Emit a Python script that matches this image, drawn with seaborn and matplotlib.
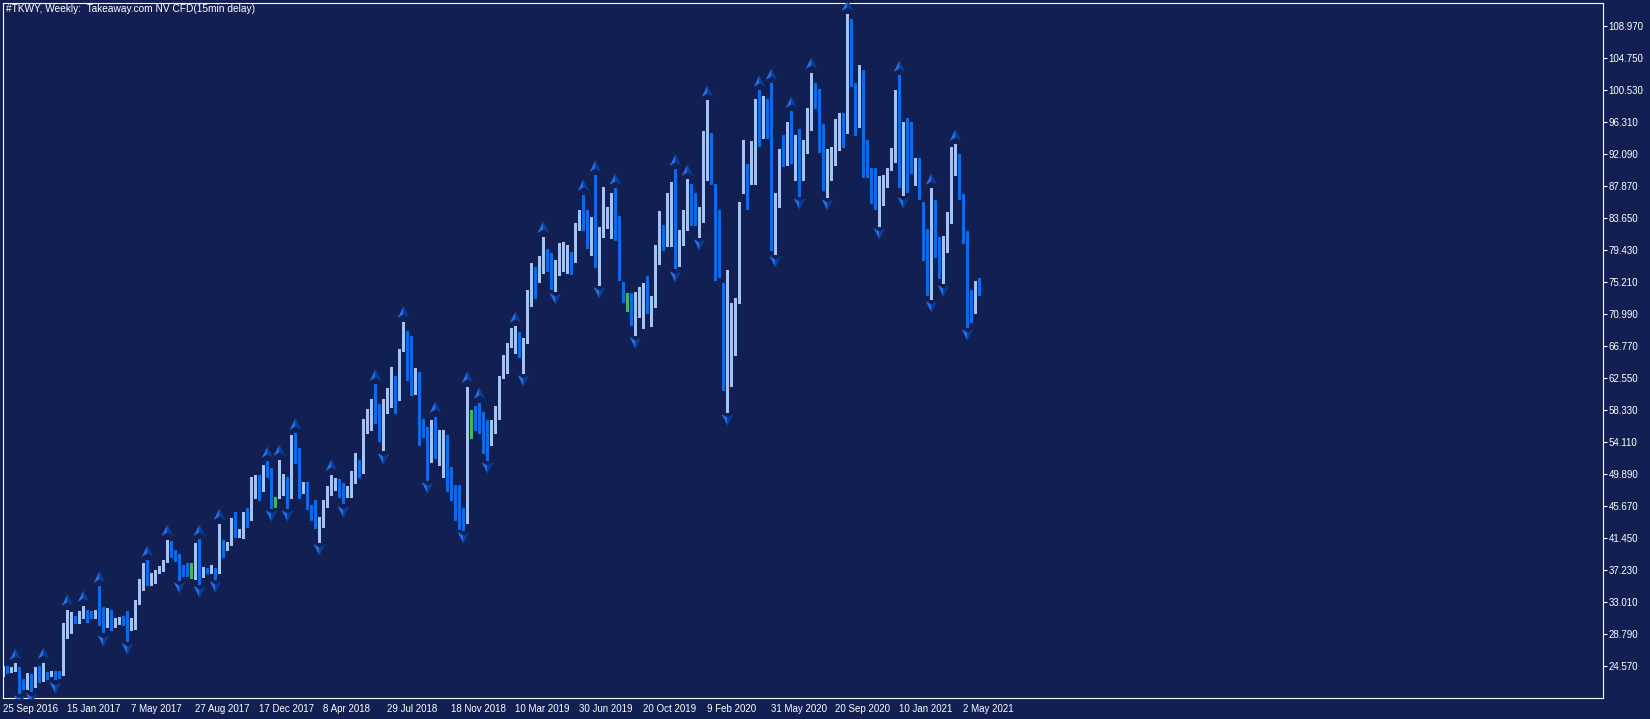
import numpy as np
import pandas as pd
import matplotlib
matplotlib.use("Agg")
import matplotlib.pyplot as plt
from matplotlib.path import Path
import seaborn as sns

# Colours of the terminal theme
BG = "#111f52"
BULL = "#a3c3f3"
BEAR = "#0c6ce8"
DOJI = "#44b75c"
ARROW_LIGHT = "#1f70e8"
ARROW_DARK = "#0b3c98"

TITLE = "#TKWY, Weekly:  Takeaway.com NV CFD(15min delay)"

# Weekly OHLC, one entry per bar starting with the week of 25 Sep 2016
opens = [
    23.4, 24.6, 24.0, 24.0, 24.35, 22.2, 21.6, 23.4, 21.9, 24.4,
    22.7, 23.4, 23.5, 23.6, 23.78, 23.7, 29.3, 29.9, 30.9, 31.1,
    31.1, 31.85, 31.5, 31.2, 31.6, 31.7, 30.55, 31.7, 30.1, 30.3,
    30.98, 31.7, 29.5, 29.5, 33.1, 35.15, 38.0, 35.5, 35.9, 36.9,
    37.2, 38.4, 40.95, 39.7, 38.6, 37.6, 37.45, 36.87, 36.35, 40.75,
    36.45, 37.45, 36.95, 37.3, 37.2, 41.1, 40.1, 40.75, 43.8, 41.85,
    41.6, 44.8, 44.05, 48.8, 49.0, 48.0, 51.2, 50.3, 46.2, 46.9,
    48.75, 47.95, 46.8, 54.6, 51.95, 47.7, 48.65, 45.65, 45.6, 43.0,
    43.3, 46.0, 47.8, 48.3, 48.9, 48.3, 47.0, 47.0, 50.0, 51.4,
    50.4, 56.2, 55.8, 60.97, 57.5, 54.5, 58.85, 59.9, 61.5, 59.8,
    66.9, 67.7, 65.15, 60.85, 60.97, 56.2, 55.9, 51.95, 56.8, 53.05,
    53.3, 54.5, 49.95, 47.1, 47.65, 44.9, 43.6, 57.5, 57.9, 57.9,
    56.35, 55.5, 54.6, 55.7, 57.45, 62.75, 65.0, 67.1, 67.2, 67.8,
    63.4, 67.55, 73.6, 76.7, 75.5, 76.7, 79.43, 76.4, 74.6, 77.75,
    78.7, 78.3, 78.6, 78.2, 82.3, 84.05, 82.95, 78.9, 84.9, 75.1,
    81.85, 82.5, 83.3, 87.0, 83.5, 75.25, 72.6, 72.05, 70.6, 71.0,
    72.4, 74.25, 71.75, 73.2, 78.1, 82.5, 80.1, 84.7, 85.9, 77.7,
    80.4, 84.5, 86.55, 86.1, 83.3, 83.4, 89.98, 94.25, 87.34, 80.75,
    70.1, 63.6, 64.0, 69.1, 73.7, 87.1, 88.9, 88.9, 93.0, 99.0,
    98.1, 99.3, 97.0, 80.1, 85.6, 92.9, 92.6, 95.9, 91.7, 92.2,
    90.2, 92.3, 96.9, 99.35, 99.9, 94.9, 89.2, 89.75, 90.7, 95.8,
    97.0, 96.1, 109.4, 99.9, 96.57, 102.8, 93.3, 89.2, 88.4, 85.36,
    86.7, 88.2, 90.4, 91.3, 101.3, 89.3, 96.57, 95.1, 90.5, 90.5,
    85.8, 81.6, 74.6, 85.8, 80.1, 79.1, 80.5, 83.2, 90.65, 91.4,
    85.36, 80.9, 73.6, 71.6, 74.02,
]
highs = [
    24.6, 24.6, 24.5, 24.9, 24.4, 22.8, 23.6, 23.5, 24.4, 24.6,
    25.0, 23.8, 23.95, 23.95, 23.95, 30.3, 32.0, 31.7, 31.2, 31.85,
    32.5, 31.95, 31.85, 31.9, 35.1, 32.4, 32.2, 31.9, 30.85, 31.0,
    31.1, 31.85, 30.85, 33.27, 36.0, 38.2, 38.5, 36.8, 37.2, 37.75,
    38.6, 41.2, 41.1, 39.87, 39.4, 37.9, 38.1, 38.2, 40.8, 41.3,
    37.6, 37.5, 37.9, 37.45, 43.3, 41.2, 40.95, 44.05, 44.9, 42.7,
    44.9, 45.4, 49.45, 49.75, 49.75, 51.1, 51.6, 50.65, 46.9, 51.74,
    49.9, 49.45, 55.0, 55.3, 53.3, 48.9, 48.9, 45.8, 46.45, 44.25,
    46.45, 48.3, 49.8, 49.3, 49.2, 48.65, 48.3, 50.3, 52.7, 51.74,
    57.2, 58.4, 59.8, 61.75, 59.1, 59.8, 61.2, 63.95, 62.8, 66.4,
    69.98, 68.75, 68.1, 63.9, 63.3, 57.2, 56.1, 57.0, 57.45, 55.7,
    55.7, 55.0, 50.85, 48.4, 48.4, 45.4, 61.4, 58.3, 58.85, 59.3,
    58.1, 57.0, 57.0, 58.8, 62.75, 65.6, 67.2, 69.1, 69.4, 68.65,
    67.8, 74.15, 77.75, 77.2, 78.6, 81.2, 79.5, 79.0, 78.1, 80.4,
    80.5, 80.1, 79.2, 82.95, 84.7, 86.7, 84.7, 83.8, 89.3, 82.5,
    87.8, 85.15, 87.0, 87.6, 83.9, 75.25, 73.7, 73.7, 73.9, 74.6,
    75.05, 76.0, 73.3, 80.1, 84.6, 82.7, 86.9, 88.45, 90.1, 82.07,
    84.7, 88.75, 88.2, 86.9, 85.15, 95.1, 99.2, 94.8, 88.2, 84.7,
    75.05, 76.8, 72.5, 73.05, 85.8, 94.0, 90.8, 93.85, 99.3, 100.5,
    99.8, 99.4, 101.4, 86.9, 92.8, 94.6, 96.35, 97.75, 94.6, 95.35,
    93.94, 98.1, 102.8, 101.4, 100.6, 96.1, 92.8, 93.05, 96.7, 97.45,
    97.45, 110.55, 109.95, 101.4, 103.8, 103.17, 93.94, 90.2, 90.2, 89.2,
    89.3, 90.2, 92.85, 100.53, 102.5, 96.35, 96.9, 96.35, 91.5, 91.5,
    85.8, 82.15, 87.57, 86.0, 81.1, 81.27, 84.5, 93.05, 93.4, 92.1,
    86.8, 81.9, 74.15, 75.35, 75.7,
]
lows = [
    23.2, 23.65, 23.8, 23.9, 21.05, 21.5, 21.6, 21.3, 21.8, 22.4,
    22.6, 22.9, 23.25, 22.8, 22.95, 23.4, 28.2, 28.9, 30.3, 30.2,
    30.9, 30.4, 30.85, 30.9, 30.0, 29.0, 29.75, 29.3, 29.75, 30.1,
    29.95, 27.9, 29.3, 29.4, 32.8, 34.6, 35.25, 35.25, 35.55, 36.8,
    37.1, 38.3, 38.9, 38.45, 35.9, 36.4, 36.4, 36.2, 36.1, 35.4,
    36.35, 36.8, 36.8, 36.1, 36.9, 38.95, 39.87, 40.5, 41.6, 41.6,
    41.4, 42.9, 43.8, 46.7, 46.45, 47.7, 49.55, 45.4, 45.5, 46.7,
    47.1, 45.4, 46.7, 51.3, 46.7, 47.35, 45.25, 43.8, 42.75, 40.95,
    42.95, 45.6, 47.1, 47.8, 46.9, 46.0, 46.8, 46.8, 48.7, 49.55,
    50.05, 55.25, 55.7, 56.6, 54.2, 53.0, 57.9, 58.75, 57.9, 59.65,
    66.15, 62.3, 60.3, 60.5, 53.7, 54.8, 49.1, 51.5, 51.95, 51.05,
    49.55, 47.6, 46.45, 43.8, 42.7, 42.5, 43.4, 54.6, 55.7, 55.25,
    52.6, 51.7, 53.7, 55.25, 57.2, 62.5, 63.2, 66.7, 65.8, 65.35,
    63.2, 67.2, 72.05, 73.15, 75.25, 76.45, 76.6, 74.25, 74.0, 76.1,
    76.6, 76.35, 76.25, 77.9, 82.07, 82.07, 79.65, 78.8, 77.2, 74.8,
    81.1, 82.3, 80.95, 80.75, 75.47, 72.6, 71.4, 69.55, 68.2, 70.55,
    69.1, 71.1, 69.4, 71.95, 77.65, 79.43, 79.9, 79.9, 77.0, 77.3,
    80.1, 82.07, 82.7, 82.7, 81.2, 83.15, 88.66, 88.2, 75.47, 75.9,
    60.97, 58.1, 61.5, 65.6, 72.4, 86.9, 84.8, 88.2, 88.2, 93.1,
    94.2, 94.2, 79.4, 78.9, 85.15, 90.5, 90.6, 90.9, 88.7, 86.6,
    88.66, 92.2, 95.25, 98.1, 92.4, 87.3, 86.45, 88.66, 90.6, 92.6,
    93.05, 94.8, 101.06, 94.6, 95.7, 89.0, 89.1, 85.6, 84.9, 82.6,
    85.36, 87.8, 89.98, 91.07, 87.8, 86.7, 87.1, 89.55, 88.0, 86.1,
    78.1, 73.5, 73.0, 78.55, 75.7, 75.1, 79.2, 82.95, 89.3, 86.1,
    80.3, 69.3, 69.98, 71.1, 73.5,
]
closes = [
    24.4, 23.8, 24.2, 24.3, 22.05, 21.8, 22.4, 22.05, 24.2, 22.6,
    23.6, 22.95, 23.9, 23.4, 23.38, 29.0, 30.0, 30.4, 30.7, 31.7,
    31.5, 31.07, 31.07, 31.65, 31.4, 29.3, 31.4, 29.6, 30.7, 30.85,
    30.7, 28.95, 29.75, 33.05, 35.0, 38.0, 35.5, 36.05, 36.9, 37.2,
    38.25, 40.6, 39.1, 38.6, 37.5, 37.2, 37.2, 36.87, 40.65, 36.35,
    37.45, 36.95, 37.3, 36.7, 41.1, 40.3, 40.75, 43.95, 42.5, 42.7,
    44.85, 44.35, 48.9, 49.0, 47.7, 50.85, 50.2, 46.45, 46.2, 49.1,
    49.0, 47.1, 54.3, 51.95, 47.0, 48.05, 45.8, 45.25, 43.05, 43.3,
    45.9, 47.7, 48.65, 48.75, 48.0, 47.0, 47.8, 50.0, 51.8, 50.3,
    57.0, 57.5, 58.77, 57.2, 56.3, 58.8, 60.75, 61.5, 59.75, 66.15,
    67.55, 64.9, 62.05, 62.3, 55.9, 55.3, 52.6, 56.8, 52.2, 53.5,
    55.0, 47.8, 46.7, 46.45, 44.7, 44.6, 56.8, 57.5, 56.6, 56.6,
    55.0, 54.8, 55.7, 57.2, 62.6, 65.2, 66.75, 68.0, 67.8, 65.7,
    67.8, 73.8, 77.0, 75.8, 78.2, 80.1, 77.3, 74.7, 77.9, 79.0,
    79.3, 79.1, 77.75, 82.3, 84.5, 83.3, 79.9, 83.6, 77.9, 82.2,
    83.0, 84.5, 86.55, 83.4, 76.35, 73.8, 72.6, 71.4, 72.5, 73.4,
    74.4, 73.05, 72.85, 78.6, 82.15, 81.1, 86.7, 85.15, 77.9, 81.7,
    84.5, 88.2, 85.9, 84.7, 83.8, 91.4, 93.7, 88.2, 77.65, 76.8,
    64.5, 68.8, 69.3, 72.75, 84.85, 89.75, 88.2, 93.3, 98.1, 96.6,
    98.9, 96.8, 82.7, 86.7, 92.5, 92.3, 95.1, 94.2, 92.6, 90.0,
    91.95, 97.1, 99.1, 98.65, 94.3, 88.1, 90.4, 91.6, 94.7, 96.35,
    96.35, 109.4, 101.5, 95.5, 101.6, 93.94, 90.4, 87.9, 85.15, 86.55,
    87.8, 90.2, 91.17, 100.1, 88.0, 96.1, 94.9, 90.9, 90.8, 86.45,
    79.9, 73.7, 85.65, 79.9, 78.65, 80.95, 83.3, 90.65, 91.4, 86.4,
    81.6, 72.2, 71.3, 74.25, 73.7,
]

# Bars flagged by the Fractals indicator
up_fractals = [3, 10, 16, 20, 24, 36, 41, 49, 54, 66, 69, 73, 82, 93, 100,
               108, 116, 119, 128, 135, 145, 148, 153, 168, 171, 176, 189,
               192, 197, 202, 211, 224, 232, 238]
down_fractals = [4, 7, 13, 25, 31, 44, 49, 53, 67, 71, 79, 85, 95, 106, 115,
                 121, 130, 138, 149, 158, 168, 174, 181, 193, 199, 206, 219,
                 225, 232, 235, 241]

date_labels = ["25 Sep 2016", "15 Jan 2017", "7 May 2017", "27 Aug 2017",
               "17 Dec 2017", "8 Apr 2018", "29 Jul 2018", "18 Nov 2018",
               "10 Mar 2019", "30 Jun 2019", "20 Oct 2019", "9 Feb 2020",
               "31 May 2020", "20 Sep 2020", "10 Jan 2021", "2 May 2021"]
date_bars = [0, 16, 32, 48, 64, 80, 96, 112, 128, 144, 160, 176, 192, 208, 224, 240]
price_ticks = [24.57, 28.79, 33.01, 37.23, 41.45, 45.67, 49.89, 54.11, 58.33,
               62.55, 66.77, 70.99, 75.21, 79.43, 83.65, 87.87, 92.09, 96.31,
               100.53, 104.75, 108.97]


def build_frame():
    """Put the OHLC lists into a DataFrame with candle colours."""
    df = pd.DataFrame({"open": opens, "high": highs, "low": lows, "close": closes})
    df["bar"] = np.arange(len(df))
    df["color"] = np.where(df["close"] > df["open"], BULL,
                           np.where(df["close"] < df["open"], BEAR, DOJI))
    mid = (df["open"] + df["close"]) / 2
    df["body_h"] = (df["close"] - df["open"]).abs().clip(lower=0.14)
    df["body_lo"] = mid - df["body_h"] / 2
    return df


def arrow_paths(flip=1):
    """Two halves of the fractal arrowhead (light left, dark right)."""
    codes = [Path.MOVETO, Path.LINETO, Path.LINETO, Path.CLOSEPOLY]
    left = Path([(0, flip), (0, -0.3 * flip), (-0.95, -0.9 * flip), (0, flip)], codes)
    right = Path([(0, flip), (0.95, -0.9 * flip), (0, -0.3 * flip), (0, flip)], codes)
    return left, right


def main():
    df = build_frame()

    sns.set_theme(style="dark", rc={
        "axes.facecolor": BG, "figure.facecolor": BG,
        "axes.edgecolor": "white", "axes.linewidth": 0.8,
        "xtick.color": "white", "ytick.color": "white",
        "text.color": "white",
    })
    plt.rcParams["font.family"] = ["Liberation Sans", "DejaVu Sans"]

    fig = plt.figure(figsize=(16.5, 7.19), dpi=100)
    ax = fig.add_axes([2.5 / 1650, 21 / 719, 1600 / 1650, 695.5 / 719])
    ax.set_facecolor(BG)

    # candles
    ax.vlines(df["bar"], df["low"], df["high"], colors=df["color"],
              linewidth=0.8, antialiased=False)
    ax.bar(df["bar"], df["body_h"], bottom=df["body_lo"], width=0.75,
           color=df["color"], linewidth=0, antialiased=False)

    # fractal arrows
    up = pd.DataFrame({"bar": up_fractals,
                       "y": df["high"].iloc[up_fractals].values + 1.25})
    dn = pd.DataFrame({"bar": down_fractals,
                       "y": df["low"].iloc[down_fractals].values - 0.95})
    for data, flip in ((up, 1), (dn, -1)):
        left, right = arrow_paths(flip)
        sns.scatterplot(data=data, x="bar", y="y", marker=left, color=ARROW_LIGHT,
                        s=80, linewidth=0, legend=False, ax=ax, zorder=3)
        sns.scatterplot(data=data, x="bar", y="y", marker=right, color=ARROW_DARK,
                        s=80, linewidth=0, legend=False, ax=ax, zorder=3)

    ax.set_xlim(-0.2, 399.8)
    ax.set_ylim(20.35, 112.07)
    ax.grid(False)
    ax.set_xlabel("")
    ax.set_ylabel("")

    for side in ("left", "right", "top", "bottom"):
        ax.spines[side].set_color("white")
        ax.spines[side].set_linewidth(0.8)

    ax.yaxis.tick_right()
    ax.set_yticks(price_ticks)
    ax.set_yticklabels([f"{v:.3f}" for v in price_ticks])
    ax.tick_params(axis="y", direction="out", length=3, width=0.8,
                   labelsize=7, pad=1.5, colors="white")

    ax.set_xticks(date_bars)
    ax.set_xticklabels(date_labels, ha="left")
    ax.tick_params(axis="x", direction="out", length=3, width=0.8,
                   labelsize=7, pad=1.5, colors="white")

    fig.text(6 / 1650, 1 - 4 / 719, TITLE, ha="left", va="top",
             fontsize=7.3, color="white")

    fig.savefig("out.png", dpi=100, facecolor=BG)
    plt.close(fig)


if __name__ == "__main__":
    main()
